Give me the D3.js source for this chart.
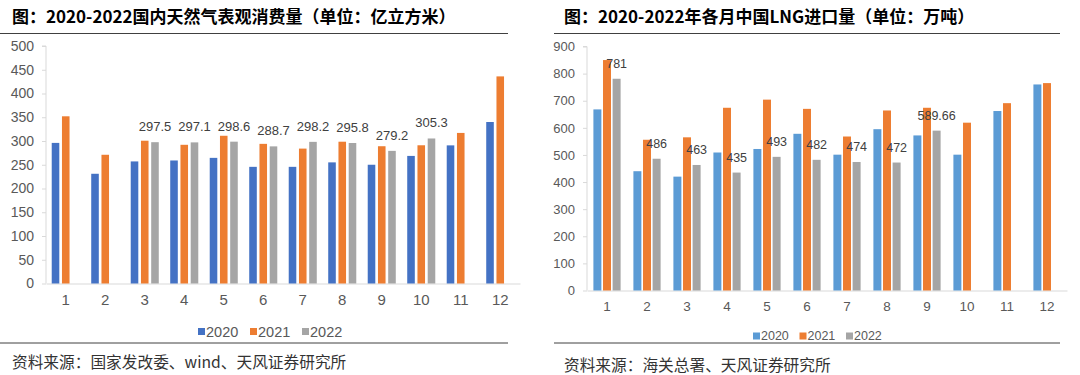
<!DOCTYPE html>
<html>
<head>
<meta charset="utf-8">
<script src="https://cdn.jsdelivr.net/npm/d3@7"></script>
<style>
  body { margin: 0; background: #fff; }
  svg { display: block; }
  .title { font-family: "Noto Sans CJK SC", sans-serif; font-weight: bold; font-size: 17px; fill: #000; }
  .source { font-family: "Noto Sans CJK SC", sans-serif; font-size: 15.7px; fill: #333; }
  .axis text { fill: #595959; font-family: "Liberation Sans", Arial, sans-serif; }
  .axis path, .axis line { stroke: #d9d9d9; }
</style>
</head>
<body>
<div id="chart"></div>
<script>
// data
const months = ['1', '2', '3', '4', '5', '6', '7', '8', '9', '10', '11', '12'];
const years = ['2020', '2021', '2022'];

// 国内天然气表观消费量 (亿立方米)
const gas2020 = [296, 231, 257, 259, 264.5, 245.6, 245.6, 255, 250, 268.6, 290.8, 340];
const gas2021 = [352, 271, 300.6, 292, 311, 294, 284, 298.5, 289, 291, 317, 436];
const gas2022 = [null, null, 297.5, 297.1, 298.6, 288.7, 298.2, 295.8, 279.2, 305.3, null, null];
const gasTicks = [0, 50, 100, 150, 200, 250, 300, 350, 400, 450, 500];

// LNG进口量 (万吨)
const lng2020 = [668, 440, 420, 509, 522, 578, 501, 595, 572, 501, 662, 760];
const lng2021 = [850, 556, 565, 674, 704, 670, 568, 664, 674, 619, 691, 765];
const lng2022 = [781, 486, 463, 435, 493, 482, 474, 472, 589.66, null, null, null];
const lngTicks = [0, 100, 200, 300, 400, 500, 600, 700, 800, 900];

const svg = d3.select('#chart').append('svg')
  .attr('width', 1080)
  .attr('height', 375);

function drawChart(opts) {
  const g = svg.append('g');

  // title and the rules above / below the chart
  g.append('text')
    .attr('class', 'title')
    .attr('x', opts.titleX)
    .attr('y', 23)
    .text(opts.title);
  g.append('line')
    .attr('x1', opts.ruleX[0]).attr('x2', opts.ruleX[1])
    .attr('y1', 33.5).attr('y2', 33.5)
    .attr('stroke', '#404040').attr('stroke-width', 1);
  g.append('line')
    .attr('x1', opts.ruleX[0]).attr('x2', opts.ruleX[1])
    .attr('y1', 343).attr('y2', 343)
    .attr('stroke', '#404040').attr('stroke-width', 1);
  g.append('text')
    .attr('class', 'source')
    .attr('x', opts.titleX)
    .attr('y', opts.sourceY)
    .text(opts.source);

  // scales
  const x0 = d3.scaleBand()
    .domain(months)
    .range(opts.xRange)
    .paddingInner(opts.groupPad)
    .paddingOuter(opts.groupPad / 2);
  const x1 = d3.scaleBand()
    .domain(years)
    .range([0, x0.bandwidth()])
    .paddingInner(opts.barPad);
  const y = d3.scaleLinear()
    .domain([0, d3.max(opts.ticks)])
    .range(opts.yRange);

  // axes
  const yaxis = d3.axisLeft(y)
    .tickValues(opts.ticks)
    .tickSize(4)
    .tickPadding(8)
    .tickFormat(d3.format('d'));
  g.append('g')
    .attr('class', 'axis')
    .attr('transform', `translate(${opts.xRange[0]}, 0)`)
    .call(yaxis)
    .call(a => a.select('.domain').attr('d', `M-4,${opts.yRange[1]}H0V${opts.yRange[0]}`))
    .selectAll('text')
    .style('font-size', opts.tickFont + 'px');

  const xaxis = d3.axisBottom(x0).tickSize(0).tickPadding(opts.xLabelPad);
  g.append('g')
    .attr('class', 'axis')
    .attr('transform', `translate(0, ${opts.yRange[0]})`)
    .call(xaxis)
    .selectAll('text')
    .style('font-size', opts.xFont + 'px');

  // bars
  const rows = months.map((m, i) => ({
    month: m,
    values: years.map((yr, j) => ({ year: yr, value: opts.series[j][i] }))
  }));

  const groups = g.selectAll('.month')
    .data(rows)
    .enter()
    .append('g')
    .attr('class', 'month')
    .attr('transform', d => `translate(${x0(d.month)}, 0)`);

  groups.selectAll('rect')
    .data(d => d.values.filter(v => v.value != null))
    .enter()
    .append('rect')
    .attr('x', d => x1(d.year))
    .attr('y', d => y(d.value))
    .attr('width', x1.bandwidth())
    .attr('height', d => opts.yRange[0] - y(d.value))
    .attr('fill', d => opts.colors[years.indexOf(d.year)]);

  // labels on the 2022 bars
  groups.filter(d => d.values[2].value != null)
    .append('text')
    .attr('x', x1('2022') + x1.bandwidth() / 2)
    .attr('y', d => y(d.values[2].value) - 11)
    .attr('text-anchor', 'middle')
    .style('font-family', '"Liberation Sans", Arial, sans-serif')
    .style('font-size', opts.labelFont + 'px')
    .attr('fill', '#404040')
    .text(d => d.values[2].value);

  // legend
  const legend = g.append('g')
    .attr('transform', `translate(${opts.legendX}, ${opts.legendY})`);
  const items = legend.selectAll('g')
    .data(years)
    .enter()
    .append('g')
    .attr('transform', (d, i) => `translate(${i * opts.legendStep}, 0)`);
  items.append('rect')
    .attr('x', 0).attr('y', -3.5)
    .attr('width', 7).attr('height', 7)
    .attr('fill', (d, i) => opts.colors[i]);
  items.append('text')
    .attr('x', 8)
    .attr('y', 0)
    .attr('dy', '0.35em')
    .style('font-family', '"Liberation Sans", Arial, sans-serif')
    .style('font-size', opts.legendFont + 'px')
    .attr('fill', '#595959')
    .text(d => d);
}

drawChart({
  title: '图：2020-2022国内天然气表观消费量（单位：亿立方米）',
  source: '资料来源：国家发改委、wind、天风证券研究所',
  titleX: 12,
  ruleX: [0, 508],
  sourceY: 368,
  xRange: [46, 520],
  yRange: [283.5, 46],
  groupPad: 0.29,
  barPad: 0.26,
  ticks: gasTicks,
  series: [gas2020, gas2021, gas2022],
  colors: ['#4472c4', '#ed7d31', '#a5a5a5'],
  tickFont: 14,
  xFont: 15,
  xLabelPad: 11,
  labelFont: 13,
  legendX: 198,
  legendY: 331.5,
  legendStep: 52,
  legendFont: 14.5
});

drawChart({
  title: '图：2020-2022年各月中国LNG进口量（单位：万吨）',
  source: '资料来源：海关总署、天风证券研究所',
  titleX: 564,
  ruleX: [554, 1060],
  sourceY: 371,
  xRange: [587, 1067],
  yRange: [290.5, 46.5],
  groupPad: 0.32,
  barPad: 0.17,
  ticks: lngTicks,
  series: [lng2020, lng2021, lng2022],
  colors: ['#5b9bd5', '#ed7d31', '#a5a5a5'],
  tickFont: 13,
  xFont: 13.5,
  xLabelPad: 11,
  labelFont: 12.5,
  legendX: 753,
  legendY: 336,
  legendStep: 46.5,
  legendFont: 12.5
});
</script>
</body>
</html>
